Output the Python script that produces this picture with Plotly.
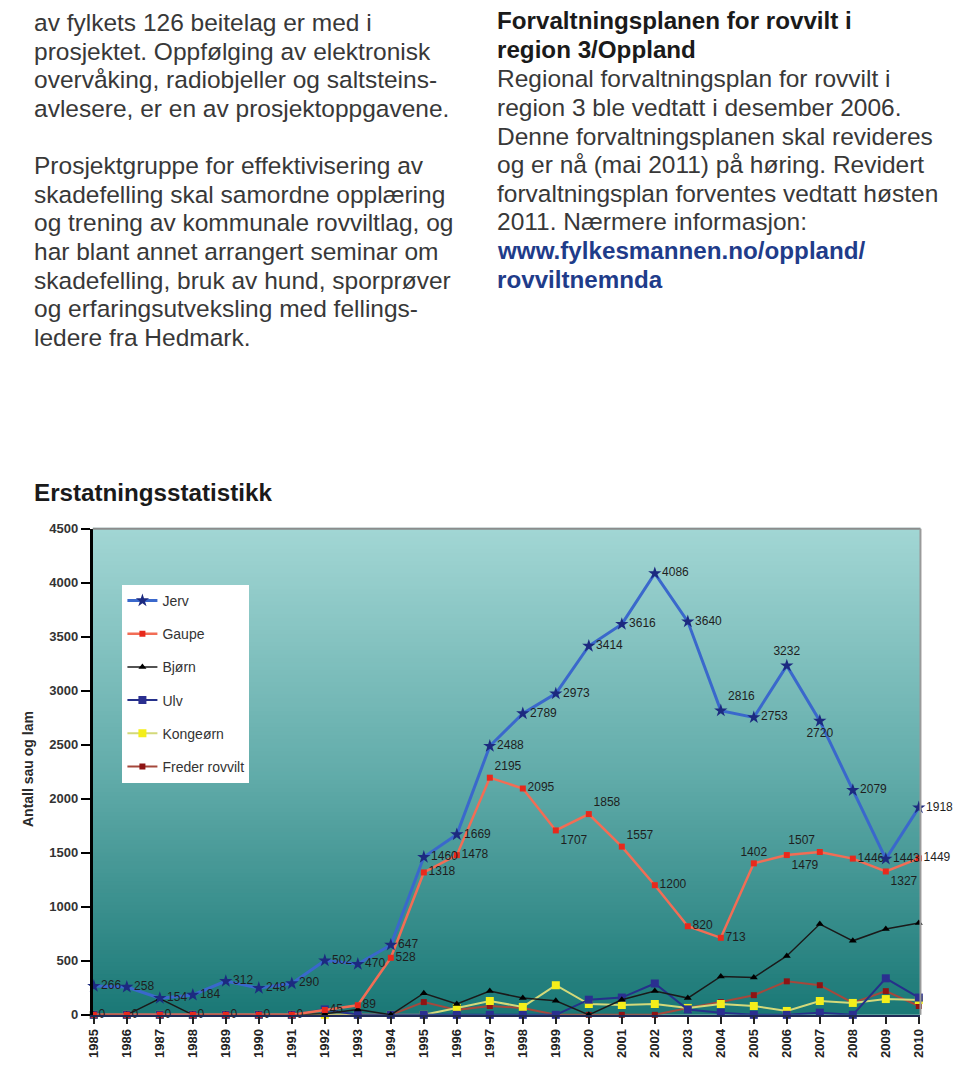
import plotly.graph_objects as go

# ---------------- data ----------------
years = list(range(1985, 2011))
jerv = [266, 258, 154, 184, 312, 248, 290, 502, 470, 647, 1460, 1669, 2488, 2789, 2973,
        3414, 3616, 4086, 3640, 2816, 2753, 3232, 2720, 2079, 1443, 1918]
gaupe = [0, 0, 0, 0, 0, 0, 0, 45, 89, 528, 1318, 1478, 2195, 2095, 1707,
         1858, 1557, 1200, 820, 713, 1402, 1479, 1507, 1446, 1327, 1449]
bjorn = [0, 0, 150, 0, 0, 0, 0, 10, 50, 0, 200, 100, 220, 155, 130,
         0, 140, 220, 155, 355, 345, 545, 840, 685, 795, 850]
ulv = [0, 0, 0, 0, 0, 0, 0, 50, 0, 0, 0, 0, 0, 0, 0,
       140, 160, 290, 50, 20, 0, 0, 20, 0, 338, 160]
kongeorn = [0, 0, 0, 0, 0, 0, 0, 0, 0, 0, 0, 64, 128, 73, 274,
            100, 91, 100, 64, 100, 82, 36, 128, 110, 146, 137]
freder = [0, 0, 0, 0, 0, 0, 0, 0, 0, 0, 118, 46, 82, 64, 0,
          0, 0, 0, 64, 118, 182, 310, 274, 110, 219, 82]

y_ticks = [0, 500, 1000, 1500, 2000, 2500, 3000, 3500, 4000, 4500]

left_text = [
    "av fylkets 126 beitelag er med i",
    "prosjektet. Oppfølging av elektronisk",
    "overvåking, radiobjeller og saltsteins-",
    "avlesere, er en av prosjektoppgavene.",
    "",
    "Prosjektgruppe for effektivisering av",
    "skadefelling skal samordne opplæring",
    "og trening av kommunale rovviltlag, og",
    "har blant annet arrangert seminar om",
    "skadefelling, bruk av hund, sporprøver",
    "og erfaringsutveksling med fellings-",
    "ledere fra Hedmark.",
]
right_head = ["Forvaltningsplanen for rovvilt i", "region 3/Oppland"]
right_text = [
    "Regional forvaltningsplan for rovvilt i",
    "region 3 ble vedtatt i desember 2006.",
    "Denne forvaltningsplanen skal revideres",
    "og er nå (mai 2011) på høring. Revidert",
    "forvaltningsplan forventes vedtatt høsten",
    "2011. Nærmere informasjon:",
]
right_link = ["www.fylkesmannen.no/oppland/", "rovviltnemnda"]

# ---------------- layout helpers ----------------
W, H = 960, 1082
def px(x):
    return x / W
def py(y):
    return 1 - y / H

PLOT_L, PLOT_R, PLOT_T, PLOT_B = 87, 926, 529, 1022

NARROW = "Liberation Sans Narrow, Arial Narrow, Liberation Sans, Arial"
label_font = dict(family=NARROW, size=12, color="#1e1e1e")

jerv_pos = ["middle right"] * len(years)
jerv_pos[years.index(2004)] = "top right"
jerv_pos[years.index(2006)] = "top center"
jerv_pos[years.index(2007)] = "bottom center"

gaupe_pos = ["middle right"] * len(years)
gaupe_pos[years.index(1997)] = "top right"
gaupe_pos[years.index(1999)] = "bottom right"
gaupe_pos[years.index(2000)] = "top right"
gaupe_pos[years.index(2001)] = "top right"
gaupe_pos[years.index(2005)] = "top center"
gaupe_pos[years.index(2006)] = "bottom right"
gaupe_pos[years.index(2007)] = "top left"
gaupe_pos[years.index(2009)] = "bottom right"

fig = go.Figure()

def add(name, vals, line_color, line_w, m_symbol, m_color, m_size, rank, text=None, tpos=None):
    fig.add_trace(go.Scatter(
        x=years, y=vals, name=name,
        mode="lines+markers+text" if text is not None else "lines+markers",
        line=dict(color=line_color, width=line_w),
        marker=dict(symbol=m_symbol, color=m_color, size=m_size, line=dict(width=0)),
        text=text, textposition=tpos, textfont=label_font,
        cliponaxis=False, legendrank=rank, legendgroup=name,
        hoverinfo="x+y+name",
    ))

add("Freder rovvilt", freder, "#a5483c", 2, "square", "#8e1414", 6, 6)
add("Kongeørn", kongeorn, "#d3d97a", 2, "square", "#f4ee1a", 8, 5)
add("Ulv", ulv, "#25308a", 2, "square", "#2a2f90", 8, 4)
add("Bjørn", bjorn, "#1a1a1a", 1.5, "triangle-up", "#000000", 7, 3)
add("Gaupe", gaupe, "#f26d55", 2.5, "square", "#e8291c", 6, 2,
    text=[str(v) for v in gaupe], tpos=gaupe_pos)
add("Jerv", jerv, "#3a68cc", 3, "star", "#1c2a80", 10, 1,
    text=[str(v) for v in jerv], tpos=jerv_pos)

# ---------------- gradient background ----------------
shapes = []
N = 120
top = (162, 214, 212)
mid = (98, 172, 170)
bot = (26, 120, 118)
for i in range(N):
    t = (i + 0.5) / N  # 0 bottom .. 1 top
    if t < 0.5:
        a, b, f = bot, mid, t / 0.5
    else:
        a, b, f = mid, top, (t - 0.5) / 0.5
    c = tuple(int(round(a[k] + (b[k] - a[k]) * f)) for k in range(3))
    shapes.append(dict(type="rect", xref="x domain", yref="y domain",
                       x0=0, x1=1, y0=i / N, y1=(i + 1) / N + 0.002,
                       fillcolor="rgb(%d,%d,%d)" % c, line=dict(width=0), layer="below"))
shapes.append(dict(type="line", xref="x domain", yref="y domain", x0=0, x1=1, y0=1, y1=1,
                   line=dict(color="#8c8c8c", width=2), layer="above"))
shapes.append(dict(type="line", xref="x domain", yref="y domain", x0=1, x1=1, y0=0, y1=1,
                   line=dict(color="#9a9a9a", width=2), layer="above"))

# ---------------- text annotations ----------------
ann = []
SANS = "Liberation Sans, Arial, Helvetica"
body_font = dict(family=SANS, size=24.5, color="#383838")
bold_font = dict(family=SANS, size=24.2, color="#1a1a1a")
link_font = dict(family=SANS, size=24.2, color="#1f3c8a")

left_centers = [16, 45, 74, 103, None, 161, 190, 219, 248, 277, 306, 335]
for t, yc in zip(left_text, left_centers):
    if t:
        ann.append(dict(text=t, x=px(25), y=py(yc), xref="paper", yref="paper",
                        xanchor="left", yanchor="middle", showarrow=False, font=body_font))
for i, t in enumerate(right_head):
    ann.append(dict(text="<b>%s</b>" % t, x=px(495), y=py(14 + 29 * i), xref="paper", yref="paper",
                    xanchor="left", yanchor="middle", showarrow=False, font=bold_font))
for i, t in enumerate(right_text):
    ann.append(dict(text=t, x=px(495), y=py(73 + 29 * i), xref="paper", yref="paper",
                    xanchor="left", yanchor="middle", showarrow=False, font=body_font))
for i, t in enumerate(right_link):
    ann.append(dict(text="<b>%s</b>" % t, x=px(495), y=py(247 + 29 * i), xref="paper", yref="paper",
                    xanchor="left", yanchor="middle", showarrow=False, font=link_font))

ann.append(dict(text="<b>Erstatningsstatistikk</b>", x=px(25), y=py(492), xref="paper", yref="paper",
                xanchor="left", yanchor="middle", showarrow=False, font=bold_font))
ann.append(dict(text="<b>Antall sau og lam</b>", x=px(22), y=py(773), xref="paper", yref="paper",
                xanchor="center", yanchor="middle", textangle=-90, showarrow=False,
                font=dict(family=NARROW, size=14, color="#2a2a2a")))

fig.update_layout(
    width=W, height=H,
    margin=dict(l=0, r=0, t=0, b=0),
    paper_bgcolor="white", plot_bgcolor="rgba(0,0,0,0)",
    shapes=shapes, annotations=ann,
    showlegend=True,
    legend=dict(x=px(117), y=py(586), xanchor="left", yanchor="top",
                bgcolor="white", borderwidth=0, tracegroupgap=12,
                font=dict(family=NARROW, size=14, color="#333333")),
    xaxis=dict(domain=[px(PLOT_L), px(PLOT_R)], range=[1984.97, 2010.05],
               tickmode="array", tickvals=years, ticktext=["<b>%d</b>" % y for y in years],
               tickangle=-90, ticks="outside", ticklen=7, tickcolor="#222", tickwidth=2,
               showgrid=False, zeroline=False, showline=True, linecolor="#1f2a55", linewidth=2,
               tickfont=dict(family=NARROW, size=13, color="#222222")),
    yaxis=dict(domain=[1 - PLOT_B / H, 1 - PLOT_T / H], range=[0, 4500],
               tickmode="array", tickvals=y_ticks, ticktext=["<b>%d</b>" % v for v in y_ticks],
               ticks="outside", ticklen=9, tickwidth=2, tickcolor="#000",
               showgrid=False, zeroline=False, showline=True, linecolor="#000", linewidth=3,
               tickfont=dict(family=NARROW, size=13, color="#333333")),
)

fig.write_html("out.html", config={"displayModeBar": False},
               post_script="document.body.style.margin='0px';")
